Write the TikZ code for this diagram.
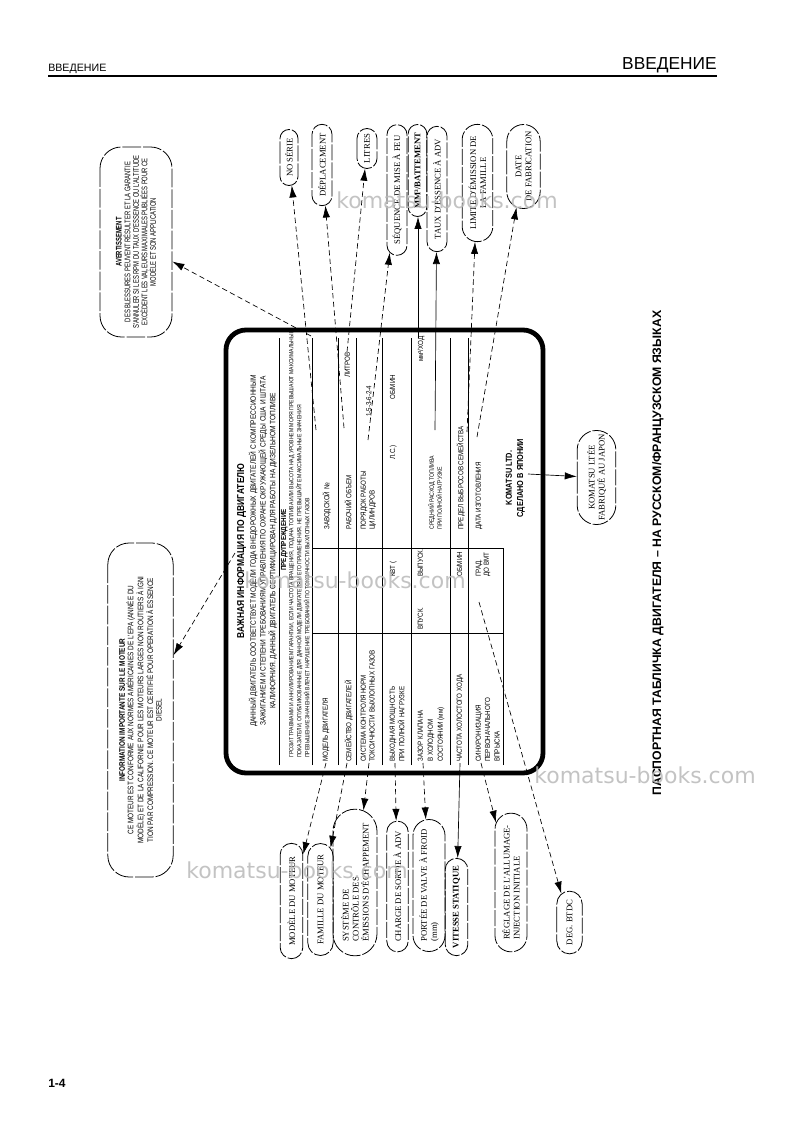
\documentclass[tikz,border=0pt]{standalone}
\usepackage{fontspec}
\setmainfont{Liberation Sans}
\newfontfamily\platefont[FakeStretch=0.85]{Liberation Sans}
\newfontfamily\narrowfont[FakeStretch=0.72]{Liberation Sans}
\newfontfamily\infofont[FakeStretch=0.8]{Liberation Sans}
\newfontfamily\labelfont{Liberation Serif}
\newfontfamily\markfont{DejaVu Sans}
\usetikzlibrary{shapes.misc, arrows.meta}

\begin{document}
\begin{tikzpicture}[x=0.75pt, y=-0.75pt,
    >={Latex[length=9pt,width=5.5pt]},
    plate/.style={draw, line width=3.6pt, rounded corners=15pt},
    ptxt/.style={rotate=90, inner sep=0pt, anchor=north west, align=left, font=\platefont\fontsize{5.5}{6.5}\selectfont},
    tag/.style={draw, rounded rectangle, rotate=90, line width=0.6pt, dash pattern=on 12pt off 1.5pt, inner xsep=1pt, inner ysep=1pt, align=center, font=\labelfont\fontsize{6.5}{7.5}\selectfont},
    bigtag/.style={draw, rectangle, rounded corners=16pt, rotate=90, line width=0.6pt, dash pattern=on 14pt off 1.5pt, inner sep=2pt, align=center},
    conn/.style={->, line width=0.5pt, dash pattern=on 4pt off 2.5pt},
    link/.style={->, line width=0.5pt},
    rule/.style={line width=0.6pt},
    wmark/.style={text=gray!55, font=\markfont\fontsize{16.5}{18}\selectfont, opacity=0.85}]
\useasboundingbox (0,0) rectangle (793,1123);

% page header and footer
\node[anchor=base west, inner sep=0pt, font=\fontsize{8}{9}\selectfont] (hdl) at (48,72) {ВВЕДЕНИЕ};
\node[anchor=base east, inner sep=0pt, font=\fontsize{13}{14}\selectfont] (hdr) at (717,70) {ВВЕДЕНИЕ};
\draw[line width=1.8pt] (48,76) -- (717,76);
\node[anchor=base west, inner sep=0pt, font=\bfseries\fontsize{9}{10}\selectfont] (pg) at (48,1087) {1-4};

% the plate
\draw[plate] (226,330) rectangle (543,773);
\node[rotate=90, anchor=base, inner sep=0pt, font=\platefont\bfseries\fontsize{7.5}{9}\selectfont] (title) at (244,551) {ВАЖНАЯ ИНФОРМАЦИЯ ПО ДВИГАТЕЛЮ};
\node[ptxt, anchor=north, align=center, font=\platefont\fontsize{5.8}{6}\selectfont] (para) at (248.5,551)
  {ДАННЫЙ ДВИГАТЕЛЬ СООТВЕТСТВУЕТ МОДЕЛИ ГОДА ВНЕДОРОЖНЫХ ДВИГАТЕЛЕЙ С КОМПРЕССИОННЫМ\\
   ЗАЖИГАНИЕМ И СТЕПЕНИ ТРЕБОВАНИЯМ УПРАВЛЕНИЯ ПО ОХРАНЕ ОКРУЖАЮЩЕЙ СРЕДЫ США И ШТАТА\\
   КАЛИФОРНИЯ. ДАННЫЙ ДВИГАТЕЛЬ СЕРТИФИЦИРОВАН ДЛЯ РАБОТЫ НА ДИЗЕЛЬНОМ ТОПЛИВЕ};
\draw[rule] (279,765) -- (279,338);
\node[rotate=90, anchor=base, inner sep=0pt, font=\platefont\bfseries\fontsize{5.5}{6}\selectfont] (warnt) at (286,540) {ПРЕДУПРЕЖДЕНИЕ};
\node[ptxt, font=\platefont\fontsize{4.5}{4.6}\selectfont] (warn) at (289,758)
  {ГРОЗИТ ТРАВМАМИ И АННУЛИРОВАНИЕМ ГАРАНТИИ, ЕСЛИ ЧАСТОТА ВРАЩЕНИЯ, ПОДАЧА ТОПЛИВА ИЛИ ВЫСОТА НАД УРОВНЕМ МОРЯ ПРЕВЫШАЮТ МАКСИМАЛЬНЫЕ\\
   ПОКАЗАТЕЛИ, ОПУБЛИКОВАННЫЕ ДЛЯ ДАННОЙ МОДЕЛИ ДВИГАТЕЛЯ И ЕГО ПРИМЕНЕНИЯ. НЕ ПРЕВЫШАЙТЕ МАКСИМАЛЬНЫЕ ЗНАЧЕНИЯ\\
   ПРЕВЫШЕНИЕ ЗНАЧЕНИЙ ВЛЕЧЕТ НАРУШЕНИЕ ТРЕБОВАНИЙ ПО ТОКСИЧНОСТИ ВЫХЛОПНЫХ ГАЗОВ};

% table rules
\foreach \x in {312,338,356,382,411,450,468}
  \draw[rule] (\x,765) -- (\x,338);
\draw[rule] (503,765) -- (503,548);
\draw[rule] (312,633) -- (503,633);
\draw[rule] (312,548) -- (503,548);

% left half
\node[ptxt] (r1) at (322.5,762) {МОДЕЛЬ ДВИГАТЕЛЯ};
\node[ptxt] (r2) at (344.5,762) {СЕМЕЙСТВО ДВИГАТЕЛЕЙ};
\node[ptxt] (r3) at (360.5,762) {СИСТЕМА КОНТРОЛЯ НОРМ\\ТОКСИЧНОСТИ ВЫХЛОПНЫХ ГАЗОВ};
\node[ptxt, font=\platefont\fontsize{5.5}{7.2}\selectfont] (r4) at (389.5,762) {ВЫХОДНАЯ МОЩНОСТЬ\\ПРИ ПОЛНОЙ НАГРУЗКЕ};
\node[ptxt, font=\platefont\fontsize{5.5}{7.5}\selectfont] (r5) at (417.5,762) {ЗАЗОР КЛАПАНА\\В ХОЛОДНОМ\\СОСТОЯНИИ (мм)};
\node[ptxt] (r6) at (456.5,762) {ЧАСТОТА ХОЛОСТОГО ХОДА};
\node[ptxt, font=\platefont\fontsize{5.5}{7}\selectfont] (r7) at (475.5,762) {СИНХРОНИЗАЦИЯ\\ПЕРВОНАЧАЛЬНОГО\\ВПРЫСКА};
\node[ptxt] (v4) at (389.5,577) {КВТ (};
\node[ptxt] (v5a) at (417.5,630) {ВПУСК.};
\node[ptxt] (v5b) at (417.5,577) {ВЫПУСК.};
\node[ptxt] (v6) at (456.5,577) {ОБ/МИН};
\node[ptxt, font=\platefont\fontsize{5.5}{6}\selectfont] (v7) at (475.5,577) {ГРАД.\\ДО ВМТ};

% right half
\node[ptxt] (q1) at (322.5,530) {ЗАВОДСКОЙ №};
\node[ptxt] (q2) at (344.5,530) {РАБОЧИЙ ОБЪЕМ};
\node[ptxt] (w2) at (344.5,378) {ЛИТРОВ};
\node[ptxt] (q3) at (360.5,530) {ПОРЯДОК РАБОТЫ\\ЦИЛИНДРОВ};
\node[ptxt] (w3) at (366,417) {1-5-3-6-2-4};
\node[ptxt] (w4a) at (389.5,460) {Л.С.)};
\node[ptxt] (w4b) at (389.5,400) {ОБ/МИН};
\node[ptxt, font=\platefont\fontsize{4.6}{5}\selectfont] (q5) at (428,530) {СРЕДНИЙ РАСХОД ТОПЛИВА\\ПРИ ПОЛНОЙ НАГРУЗКЕ};
\node[ptxt] (w5) at (417.5,362) {мм³/ХОД};
\node[ptxt] (q6) at (456.5,530) {ПРЕДЕЛ ВЫБРОСОВ СЕМЕЙСТВА};
\node[ptxt] (q7) at (475.5,530) {ДАТА ИЗГОТОВЛЕНИЯ};
\node[rotate=90, anchor=north, align=center, inner sep=0pt, font=\platefont\bfseries\fontsize{6.5}{8.5}\selectfont] (maker) at (505.5,478) {KOMATSU LTD.\\СДЕЛАНО В ЯПОНИИ};

% French callouts
\node[bigtag, minimum width=142.5pt, minimum height=54pt, font=\narrowfont\fontsize{6.1}{6.4}\selectfont] (avert) at (136,242)
  {\textbf{AVERTISSEMENT}\\DES BLESSURES PEUVENT RÉSULTER ET LA GARANTIE\\S'ANNULER SI LES RPM DU TAUX D'ESSENCE OU L'ALTITUDE\\EXCÈDENT LES VALEURS MAXIMALES PUBLIÉES POUR CE\\MODÈLE ET SON APPLICATION};
\node[bigtag, minimum width=250.5pt, minimum height=49pt, font=\infofont\fontsize{6}{6.3}\selectfont] (info) at (140.5,710)
  {\textbf{INFORMATION IMPORTANTE SUR LE MOTEUR}\\CE MOTEUR EST CONFORME AUX NORMES AMÉRICAINES DE L'EPA (ANNÉE DU\\MODÈLE) ET DE LA CALIFORNIE POUR LES MOTEURS LARGES NON ROUTIERS À IGNI\\TION PAR COMPRESSION. CE MOTEUR EST CERTIFIÉ POUR OPERATION À ESSENCE\\DIESEL};

\node[tag, minimum width=44pt, minimum height=13.5pt] (serie) at (289,157.5) {NO SÉRIE};
\node[tag, minimum width=63pt, minimum height=15pt] (depl) at (322,165) {DÉPLACEMENT};
\node[tag, minimum width=32pt, minimum height=15pt] (litres) at (367,148.5) {LITRES};
\node[tag, minimum width=100pt, minimum height=15pt] (seq) at (397,190) {SÉQUENCE DE MISE À FEU};
\node[tag, minimum width=71pt, minimum height=14pt, font=\labelfont\bfseries\fontsize{6.5}{7.5}\selectfont] (batt) at (417.5,170.5) {MM³/BATTEMENT};
\node[tag, minimum width=96pt, minimum height=15pt] (taux) at (437,189) {TAUX D'ESSENCE À ADV};
\node[tag, minimum width=90pt, minimum height=23pt] (limite) at (477.5,183) {LIMITE D'ÉMISSION DE\\LA FAMILLE};
\node[tag, minimum width=65pt, minimum height=25pt] (date) at (523.5,166.5) {DATE\\DE FABRICATION};

\node[tag, minimum width=88.5pt, minimum height=17pt] (modele) at (291.5,901) {MODÈLE DU MOTEUR};
\node[tag, minimum width=86pt, minimum height=19pt] (famille) at (320.5,899.5) {FAMILLE DU MOTEUR};
\node[tag, minimum width=112pt, minimum height=33pt, align=left] (systeme) at (355,882.5) {SYSTÈME DE\\CONTRÔLE DES\\ÉMISSIONS D'ÉCHAPPEMENT};
\node[tag, minimum width=100pt, minimum height=16pt] (charge) at (397.5,886.5) {CHARGE DE SORTIE À ADV};
\node[tag, minimum width=101pt, minimum height=24pt, align=left] (portee) at (429,885.5) {PORTÉE DE VALVE À FROID\\(mm)};
\node[tag, minimum width=75pt, minimum height=17pt, font=\labelfont\bfseries\fontsize{6.5}{7.5}\selectfont] (vitesse) at (456.5,907) {VITESSE STATIQUE};
\node[tag, minimum width=106pt, minimum height=24pt, align=left] (reglage) at (511,882.5) {RÉGLAGE DE L'ALLUMAGE-\\INJECTION INITIALE};
\node[tag, minimum width=49pt, minimum height=19pt] (deg) at (569.5,922.5) {DEG. BTDC};
\node[tag, minimum width=65pt, minimum height=29pt] (komatsu) at (596.5,477.5) {KOMATSU LTÉE\\FABRIQUÉ AU JAPON};

% caption
\node[rotate=90, anchor=base, inner sep=0pt, font=\bfseries\fontsize{9.2}{10}\selectfont] (caption) at (661,553)
  {ПАСПОРТНАЯ ТАБЛИЧКА ДВИГАТЕЛЯ – НА РУССКОМ/ФРАНЦУЗСКОМ ЯЗЫКАХ};

% field points on the plate
\coordinate (sSerie) at (316,430);
\coordinate (sDepl) at (344,428);
\coordinate (sLitres) at (347,352);
\coordinate (sSeq) at (368,440);
\coordinate (sBatt) at (418,338);
\coordinate (sTaux) at (435,430);
\coordinate (sLimite) at (467,432);
\coordinate (sDate) at (477,437);
\coordinate (sAvert) at (311,336);
\coordinate (sInfo) at (235,553);
\coordinate (sModele) at (326,763);
\coordinate (sFamille) at (347,763);
\coordinate (sSysteme) at (369,763);
\coordinate (sCharge) at (395,763);
\coordinate (sPortee) at (423,763);
\coordinate (sVitesse) at (460,763);
\coordinate (sReglage) at (481,763);
\coordinate (sDeg) at (479,602);
\coordinate (sKomatsu) at (528,474);

% connectors
\draw[conn] (sSerie) -- (serie);
\draw[conn] (sDepl) -- (depl);
\draw[conn] (sLitres) -- (litres);
\draw[conn] (sSeq) -- (seq);
\draw[link] (sBatt) -- (sBatt |- batt.west);
\draw[link] (sTaux) -- (taux);
\draw[conn] (sLimite) -- (limite);
\draw[conn] (sDate) -- (date);
\draw[conn] (sAvert) -- (avert);
\draw[conn] (sInfo) -- (info);
\draw[conn] (sModele) -- (modele);
\draw[conn] (sFamille) -- (famille);
\draw[conn] (sSysteme) -- (systeme);
\draw[conn] (sCharge) -- (charge);
\draw[conn] (sPortee) -- (portee);
\draw[link] (sVitesse) -- (vitesse);
\draw[conn] (sReglage) -- (reglage);
\draw[conn] (sDeg) -- (deg);
\draw[link] (sKomatsu) -- (komatsu);

% watermarks
\node[wmark] (wm1) at (447,200) {komatsu-books.com};
\node[wmark] (wm2) at (355,580) {komatsu-books.com};
\node[wmark] (wm3) at (645,775) {komatsu-books.com};
\node[wmark] (wm4) at (297,870) {komatsu-books.com};
\end{tikzpicture}
\end{document}
